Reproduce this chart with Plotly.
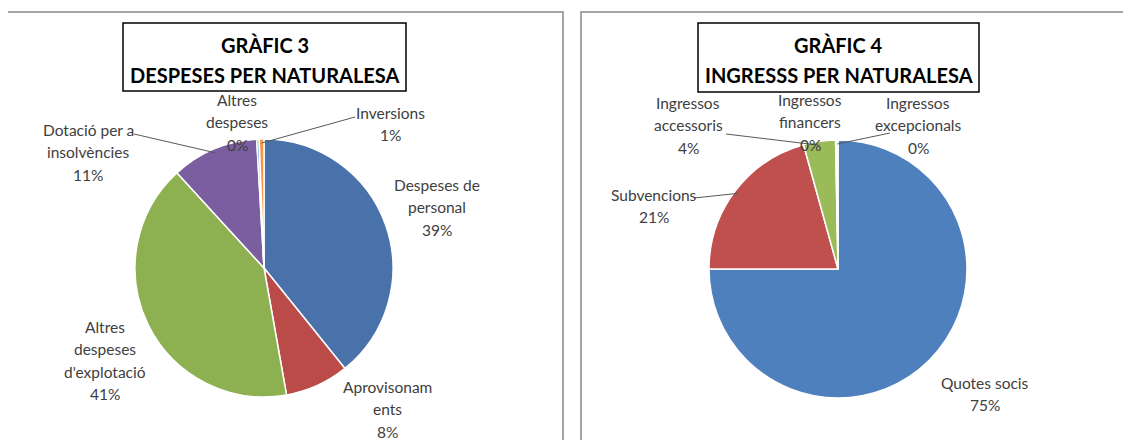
import math
import plotly.graph_objects as go

W, H = 1131, 440
OFF = 8  # page body margin in the browser

# ---------------- data ----------------
exp_labels = ["Despeses de personal", "Aprovisonaments", "Altres despeses d'explotació",
              "Dotació per a insolvències", "Altres despeses", "Inversions"]
exp_values = [39.2, 8.0, 41.0, 10.9, 0.3, 0.6]
exp_colors = ["#4A72AA", "#BA4B48", "#8DB050", "#7B5EA0", "#4BACC6", "#F79646"]

inc_labels = ["Quotes socis", "Subvencions", "Ingressos accessoris",
              "Ingressos financers", "Ingressos excepcionals"]
inc_values = [75.0, 20.7, 4.0, 0.15, 0.15]
inc_colors = ["#4F80BE", "#C0504D", "#9BBB59", "#8064A2", "#4BACC6"]

exp_title = ["GRÀFIC 3", "DESPESES PER NATURALESA"]
inc_title = ["GRÀFIC 4", "INGRESSS PER NATURALESA"]

# display text for labels (line breaks as in the original)
exp_text = [["Despeses de", "personal"], ["Aprovisonam", "ents"], ["Altres", "despeses", "d'explotació"],
            ["Dotació per a", "insolvències"], ["Altres", "despeses"], ["Inversions"]]
inc_text = [["Quotes socis"], ["Subvencions"], ["Ingressos", "accessoris"],
            ["Ingressos", "financers"], ["Ingressos", "excepcionals"]]

# ---------------- layout geometry (page pixels) ----------------
R = 129
exp_c = (264, 268)
inc_c = (838, 269)
LS = 22.3  # line spacing

# (center x, first-line y)
exp_lbl_pos = [(437, 185), (388, 387), (105, 327), (88, 130), (237, 100), (390, 113)]
inc_lbl_pos = [(985, 383), (654, 195), (688, 103), (810, 100), (918, 103)]
# leader line label-side anchor (None = no line)
exp_leader = [None, None, None, (134, 134), None, (355, 117)]
inc_leader = [None, (694, 198), (726, 134), None, (890, 133)]

FONT = "Lato, 'Open Sans', sans-serif"
TXT = "#404040"


def px2paper(x, y):
    return (x - OFF) / W, 1 - (y - OFF) / H


def domain(c):
    x0, y1 = px2paper(c[0] - R, c[1] - R)
    x1, y0 = px2paper(c[0] + R, c[1] + R)
    return dict(x=[x0, x1], y=[y0, y1])


def mid_points(values, c, r):
    tot = sum(values)
    cum = 0
    pts = []
    for v in values:
        a = (cum + v / 2) / tot * 2 * math.pi
        cum += v
        pts.append((c[0] + r * math.sin(a), c[1] - r * math.cos(a)))
    return pts


fig = go.Figure()
for labels, values, colors, c in [(exp_labels, exp_values, exp_colors, exp_c),
                                  (inc_labels, inc_values, inc_colors, inc_c)]:
    fig.add_trace(go.Pie(labels=labels, values=values, sort=False, direction="clockwise",
                         rotation=0, marker=dict(colors=colors, line=dict(color="white", width=1.5)),
                         textinfo="none", hoverinfo="label+percent", showlegend=False,
                         domain=domain(c)))

shapes = []
annotations = []

# panel borders
for x0, x1 in [(7, 563), (581, 1160)]:
    a0, b1 = px2paper(x0, 12)
    a1, b0 = px2paper(x1, 470)
    shapes.append(dict(type="rect", xref="paper", yref="paper", x0=a0, x1=a1, y0=b0, y1=b1,
                       line=dict(color="#A6A6A6", width=2), fillcolor="rgba(0,0,0,0)", layer="below"))

# title boxes
for (x0, y0, x1, y1), title in [((123, 23, 406, 91), exp_title),
                                ((698, 23, 979, 92), inc_title)]:
    a0, b1 = px2paper(x0, y0)
    a1, b0 = px2paper(x1, y1)
    shapes.append(dict(type="rect", xref="paper", yref="paper", x0=a0, x1=a1, y0=b0, y1=b1,
                       line=dict(color="black", width=1.5), fillcolor="white"))
    for line_txt, ty in zip(title, [45, 75]):
        px_, py_ = px2paper((x0 + x1) / 2, ty)
        annotations.append(dict(xref="paper", yref="paper", x=px_, y=py_, text=line_txt,
                                showarrow=False, xanchor="center", yanchor="middle",
                                font=dict(family=FONT, size=20, color="black", weight="bold")))

# labels
for values, texts, lpos, leaders, c in [(exp_values, exp_text, exp_lbl_pos, exp_leader, exp_c),
                                        (inc_values, inc_text, inc_lbl_pos, inc_leader, inc_c)]:
    tot = sum(values)
    pts = mid_points(values, c, R - 4)
    for v, t, (lx, ly), ld, p in zip(values, texts, lpos, leaders, pts):
        pct = f"{round(v / tot * 100):.0f}%"
        if ld is not None:
            a0, b0 = px2paper(*ld)
            a1, b1 = px2paper(*p)
            shapes.append(dict(type="line", xref="paper", yref="paper", x0=a0, y0=b0, x1=a1, y1=b1,
                               line=dict(color="#595959", width=1)))
        for i, line_txt in enumerate(t + [pct]):
            ax, ay = px2paper(lx, ly + i * LS)
            annotations.append(dict(xref="paper", yref="paper", x=ax, y=ay, text=line_txt,
                                    showarrow=False, xanchor="center", yanchor="middle",
                                    font=dict(family=FONT, size=15.5, color=TXT)))

fig.update_layout(width=W, height=H, margin=dict(l=0, r=0, t=0, b=0),
                  paper_bgcolor="white", plot_bgcolor="white",
                  shapes=shapes, annotations=annotations)
fig.write_html("out.html")
